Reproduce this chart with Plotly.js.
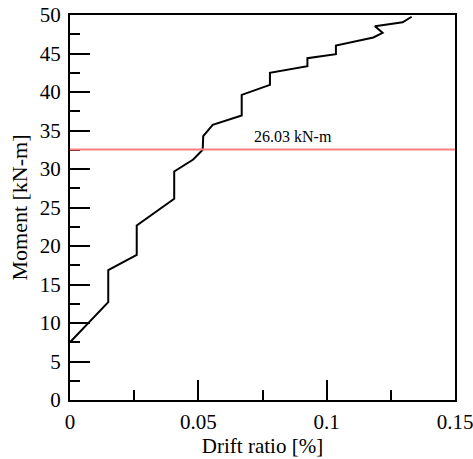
<!DOCTYPE html>
<html>
<head>
<meta charset="utf-8">
<script src="https://cdn.plot.ly/plotly-3.0.1.min.js"></script>
<style>html,body{margin:0;padding:0;background:#fff;}#chart{width:473px;height:459px;}</style>
</head>
<body>
<div id="chart"></div>
<script>
// Drift ratio [%] vs Moment [kN-m]
var driftRatio = [0, 0.0149, 0.0149, 0.026, 0.026, 0.0406, 0.0406, 0.048, 0.0517, 0.0519, 0.0556, 0.0669, 0.0669, 0.0779, 0.0779, 0.0925, 0.0925, 0.1036, 0.1036, 0.1182, 0.1218, 0.1188, 0.1296, 0.1331];
var moment = [7.5, 12.7, 16.86, 18.86, 22.66, 26.13, 29.68, 31.23, 32.5, 34.26, 35.74, 36.95, 39.63, 40.93, 42.49, 43.35, 44.39, 44.91, 46.04, 47.08, 47.69, 48.55, 49.06, 49.77];
var refLevel = 32.53;
var refLabel = "26.03 kN-m";
var xRange = [0, 0.15];
var yRange = [0, 50];

var font = "Liberation Serif";

var traces = [
  {x: driftRatio, y: moment, mode: 'lines', line: {color: '#000', width: 2}, hoverinfo: 'skip', showlegend: false}
];

function axisBase(extra){
  var a = {
    showgrid: false, zeroline: false, showline: true, linecolor: '#000', linewidth: 2, mirror: true,
    ticks: 'inside', ticklen: 20, tickwidth: 2, tickcolor: '#000',
    ticklabeloverflow: 'allow',
    tickfont: {family: font, size: 21, color: '#000'}
  };
  for (var k in extra) a[k] = extra[k];
  return a;
}

var layout = {
  width: 473, height: 459,
  margin: {l: 70, r: 18, t: 15, b: 59},
  paper_bgcolor: '#fff', plot_bgcolor: '#fff',
  font: {family: font, color: '#000'},
  xaxis: axisBase({range: xRange, dtick: 0.05, tick0: 0,
    minor: {dtick: 0.025, ticks: 'inside', ticklen: 10, tickwidth: 2, tickcolor: '#000', showgrid: false},
    ticklabelstandoff: 2,
    title: {text: 'Drift ratio [%]', font: {family: font, size: 21, color: '#000'}, standoff: 2}}),
  yaxis: axisBase({range: yRange, dtick: 5, tick0: 0,
    minor: {dtick: 2.5, ticks: 'inside', ticklen: 10, tickwidth: 2, tickcolor: '#000', showgrid: false},
    ticklabelstandoff: 3,
    title: {text: 'Moment [kN-m]', font: {family: font, size: 22, color: '#000'}, standoff: 6}}),
  shapes: [
    {type: 'line', xref: 'paper', x0: 0, x1: 1, yref: 'y', y0: refLevel, y1: refLevel, line: {color: '#ff8080', width: 2}}
  ],
  annotations: [
    {x: 0.087, y: refLevel, xref: 'x', yref: 'y', text: refLabel, showarrow: false, yanchor: 'bottom', yshift: 3,
     font: {family: font, size: 16, color: '#000'}}
  ]
};

Plotly.newPlot('chart', traces, layout, {displayModeBar: false, staticPlot: true});
</script>
</body>
</html>
